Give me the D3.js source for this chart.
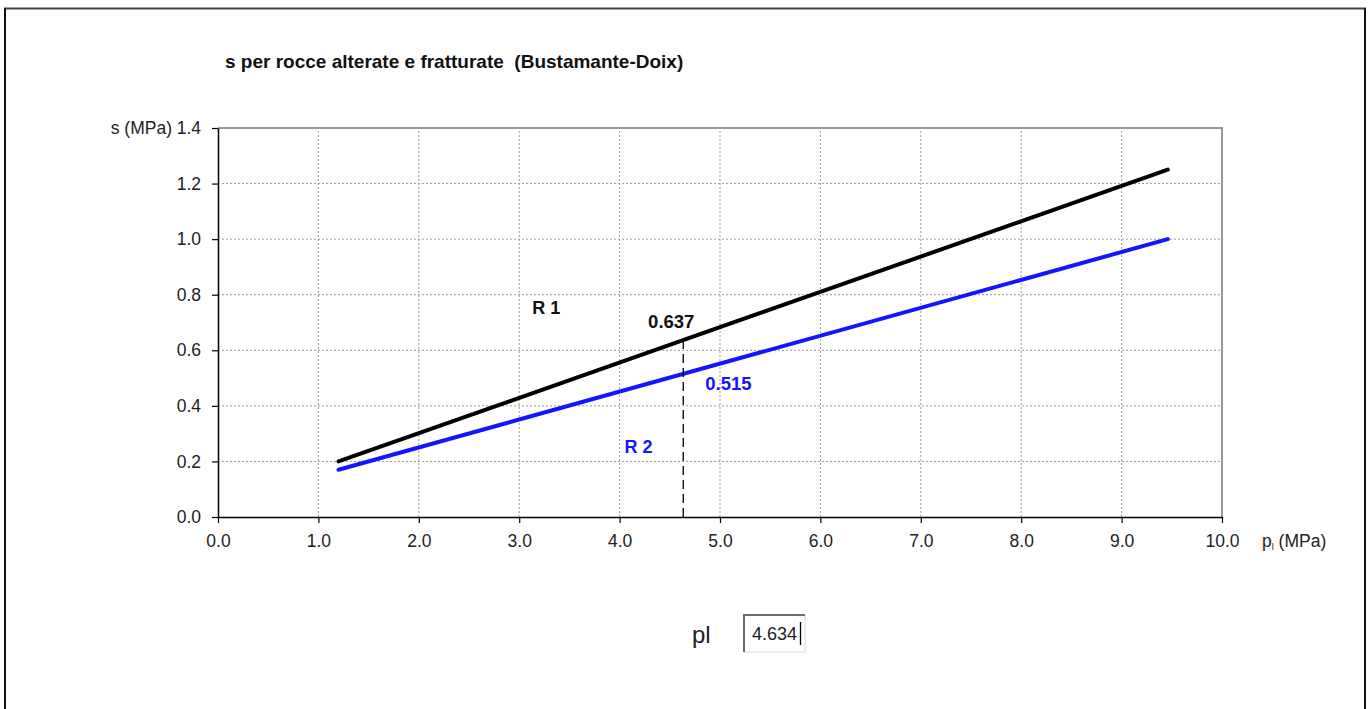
<!DOCTYPE html>
<html><head><meta charset="utf-8">
<script src="https://cdn.jsdelivr.net/npm/d3@7"></script>
<style>body{margin:0;background:#fff;} svg{display:block;font-family:"Liberation Sans",Arial,sans-serif;}</style>
</head><body>
<svg id="c" width="1372" height="709"></svg>
<script>
const xTicks = [0,1,2,3,4,5,6,7,8,9,10];
const yTicks = [0,0.2,0.4,0.6,0.8,1.0,1.2,1.4];
const seriesNames = ["R 1","R 2"];
const r1X = [1.2, 9.46], r1Y = [0.2, 1.25];
const r2X = [1.2, 9.46], r2Y = [0.17, 1.0];
const plValue = 4.634;
const s1Value = 0.637, s2Value = 0.515;

const FONT = "Liberation Sans, Arial, sans-serif";
const svg = d3.select("#c");
// outer frame
svg.append("line").attr("x1",4).attr("x2",1366).attr("y1",8.5).attr("y2",8.5).attr("stroke","#444").attr("stroke-width",2);
svg.append("line").attr("x1",5).attr("x2",5).attr("y1",8).attr("y2",709).attr("stroke","#111").attr("stroke-width",2);
svg.append("line").attr("x1",1365).attr("x2",1365).attr("y1",8).attr("y2",709).attr("stroke","#111").attr("stroke-width",2);

const x = d3.scaleLinear().domain([0,10]).range([218,1222]);
const y = d3.scaleLinear().domain([0,1.4]).range([517,128]);

// grid
svg.append("g").selectAll("line").data(xTicks.slice(1,-1)).join("line")
  .attr("x1",d=>x(d)).attr("x2",d=>x(d)).attr("y1",y(0)).attr("y2",y(1.4))
  .attr("stroke","#9a9a9a").attr("stroke-width",1).attr("stroke-dasharray","2,2");
svg.append("g").selectAll("line").data(yTicks.slice(1,-1)).join("line")
  .attr("x1",x(0)).attr("x2",x(10)).attr("y1",d=>y(d)).attr("y2",d=>y(d))
  .attr("stroke","#9a9a9a").attr("stroke-width",1).attr("stroke-dasharray","2,2");
// top & right plot border
svg.append("line").attr("x1",x(0)).attr("x2",x(10)+1).attr("y1",y(1.4)).attr("y2",y(1.4)).attr("stroke","#9a9a9a").attr("stroke-width",2);
svg.append("line").attr("x1",x(10)).attr("x2",x(10)).attr("y1",y(1.4)).attr("y2",y(0)).attr("stroke","#9a9a9a").attr("stroke-width",2);

// axes
const xAxis = d3.axisBottom(x).tickValues(xTicks).tickFormat(d3.format(".1f")).tickSize(6).tickSizeOuter(0);
const gx = svg.append("g").attr("transform",`translate(0,${y(0)})`).call(xAxis);
gx.select(".domain").attr("stroke","#000").attr("stroke-width",1.5);
gx.selectAll(".tick line").attr("stroke","#000").attr("stroke-width",1.2);
gx.selectAll(".tick text").attr("font-size",17.5).attr("fill","#222").attr("font-family",FONT).attr("y",18);

const yAxis = d3.axisLeft(y).tickValues(yTicks).tickFormat(d3.format(".1f")).tickSize(6).tickSizeOuter(0);
const gy = svg.append("g").attr("transform",`translate(${x(0)},0)`).call(yAxis);
gy.select(".domain").attr("stroke","#000").attr("stroke-width",1.5);
gy.selectAll(".tick line").attr("stroke","#000").attr("stroke-width",1.2);
gy.selectAll(".tick text").attr("font-size",17.5).attr("fill","#222").attr("font-family",FONT).attr("x",-17);

// axis labels
svg.append("text").attr("x",172).attr("y",y(1.4)+6).attr("text-anchor","end").attr("font-size",17.5).attr("fill","#222").text("s (MPa)");
const xl = svg.append("text").attr("x",1262).attr("y",y(0)+30).attr("font-size",17.5).attr("fill","#222");
xl.append("tspan").text("p");
xl.append("tspan").attr("font-size",9).attr("dy",3).text("l");
xl.append("tspan").attr("dy",-3).text(" (MPa)");

// title
svg.append("text").attr("x",225).attr("y",68).attr("font-size",19).attr("font-weight","bold").attr("fill","#111")
  .style("white-space","pre")
  .text("s per rocce alterate e fratturate  (Bustamante-Doix)");

// lines
const line = d3.line().x(d=>x(d[0])).y(d=>y(d[1]));
svg.append("path").datum(d3.zip(r1X,r1Y)).attr("d",line).attr("stroke","#000").attr("stroke-width",4).attr("fill","none").attr("stroke-linecap","round");
svg.append("path").datum(d3.zip(r2X,r2Y)).attr("d",line).attr("stroke","#1414ff").attr("stroke-width",4).attr("fill","none").attr("stroke-linecap","round");

// dashed marker
svg.append("line").attr("x1",x(plValue)).attr("x2",x(plValue)).attr("y1",y(0)).attr("y2",y(s1Value))
  .attr("stroke","#000").attr("stroke-width",1.3).attr("stroke-dasharray","9,5");

// annotations
svg.append("text").attr("x",x(3.13)).attr("y",y(0.73)).attr("font-size",18).attr("font-weight","bold").attr("fill","#111").style("white-space","pre").text(seriesNames[0]);
svg.append("text").attr("x",x(plValue)-12).attr("y",y(s1Value)-12).attr("text-anchor","middle").attr("font-size",18.5).attr("font-weight","bold").attr("fill","#111").text(s1Value.toFixed(3));
svg.append("text").attr("x",x(plValue)+22).attr("y",y(s2Value)+16).attr("font-size",18.5).attr("font-weight","bold").attr("fill","#1414ff").text(s2Value.toFixed(3));
svg.append("text").attr("x",x(4.05)).attr("y",y(0.23)).attr("font-size",18).attr("font-weight","bold").attr("fill","#1414ff").style("white-space","pre").text(seriesNames[1]);

// pl input
svg.append("text").attr("x",692).attr("y",643).attr("font-size",24).attr("fill","#222").text("pl");
svg.append("rect").attr("x",744).attr("y",615).attr("width",61).attr("height",37).attr("fill","#fff").attr("stroke","#e6e6e6").attr("stroke-width",1.5);
svg.append("path").attr("d","M744,652 L744,615 L805,615").attr("fill","none").attr("stroke","#6e6e6e").attr("stroke-width",2);
svg.append("text").attr("x",752).attr("y",640).attr("font-size",18).attr("fill","#222").text(plValue.toFixed(3));
svg.append("line").attr("x1",800.5).attr("x2",800.5).attr("y1",622).attr("y2",645).attr("stroke","#000").attr("stroke-width",1.3);
</script>
</body></html>
